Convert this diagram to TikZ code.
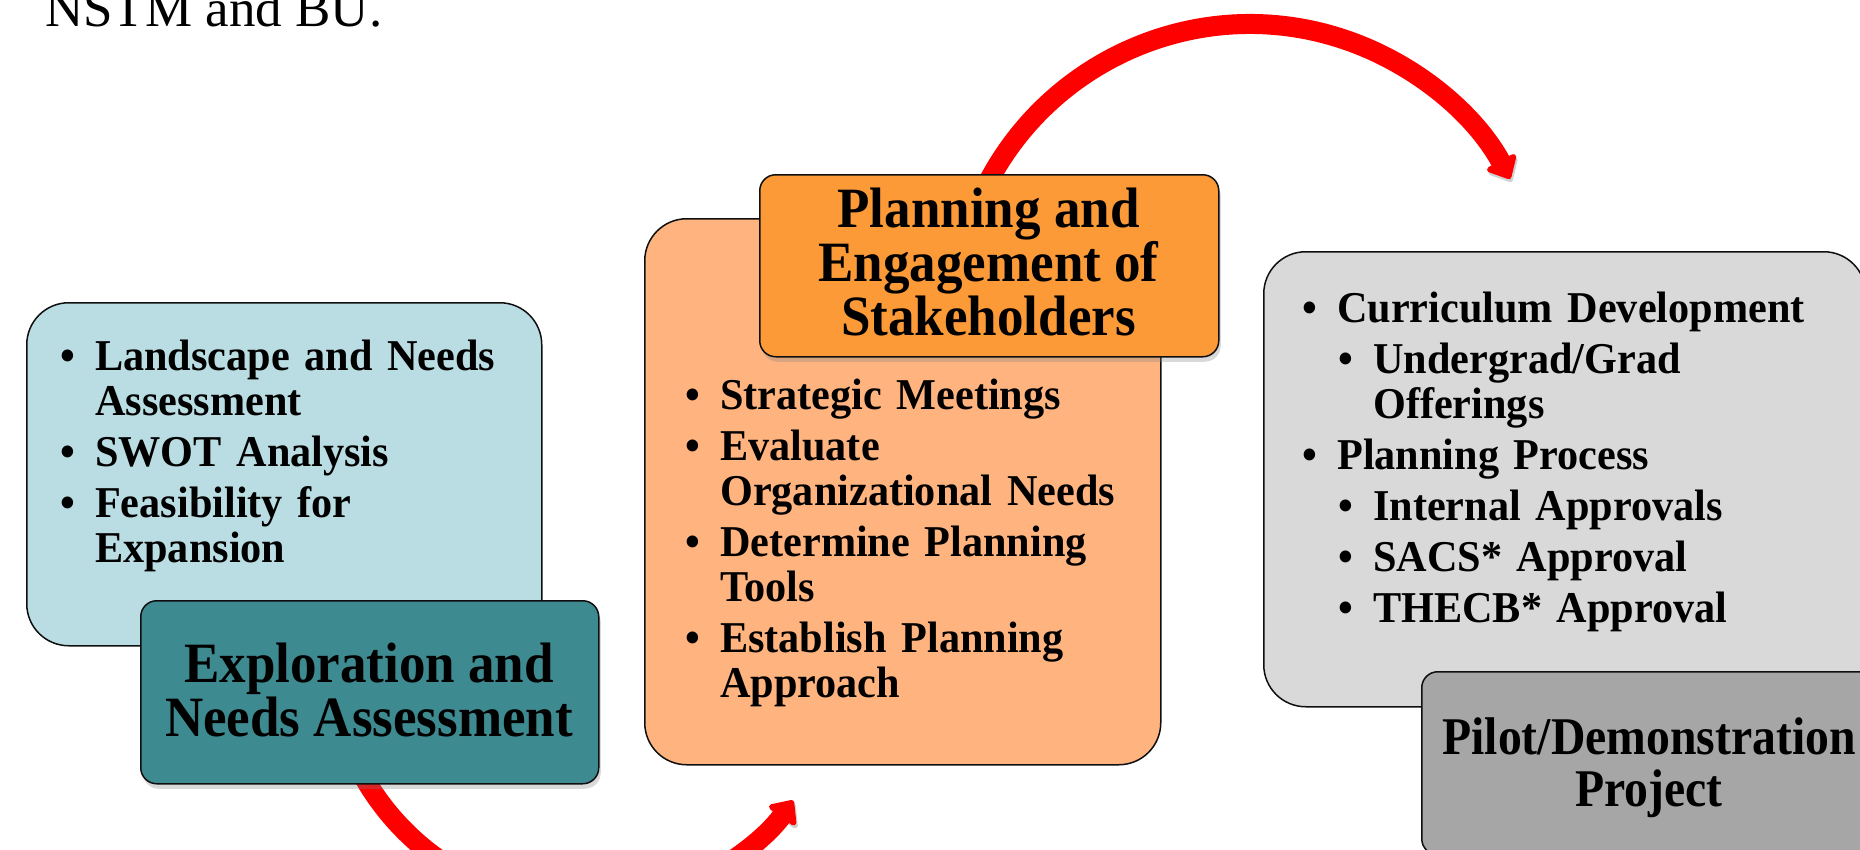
\documentclass[tikz,border=0pt]{standalone}
\usepackage{fontspec}
\setmainfont{Liberation Serif}
\newfontfamily\tfont{Liberation Serif Bold}[FakeStretch=0.93]
\newfontfamily\pfont{Liberation Serif Bold}[FakeStretch=0.9]
\newfontfamily\cfont{Liberation Serif Bold}[FakeStretch=0.96]
\usetikzlibrary{arrows.meta,shadows}
\definecolor{lblue}{RGB}{185,221,226}
\definecolor{tealbox}{RGB}{62,138,145}
\definecolor{lorange}{RGB}{255,180,128}
\definecolor{dorange}{RGB}{253,154,56}
\definecolor{lgrey}{RGB}{217,217,217}
\definecolor{dgrey}{RGB}{166,166,166}
\definecolor{edgecol}{RGB}{15,15,15}
\newcommand\itm[2][0pt]{\par\noindent\hangindent=\dimexpr#1+35pt\relax\hangafter=1\hspace*{#1}\makebox[35pt][l]{\textbullet}#2}
\newcommand\gap{\par\vspace{6pt}}
\tikzset{
  cbox/.style={draw=edgecol, line width=1.5pt, rounded corners=42pt, anchor=north west, inner sep=0pt},
  tbox/.style={draw=edgecol, line width=1.5pt, rounded corners=16pt, anchor=north west, inner sep=0pt,
    drop shadow={shadow xshift=2pt, shadow yshift=-5pt, opacity=0.3}},
  ctext/.style={anchor=north west, inner sep=0pt, text width=560pt, align=left,
    font=\cfont\fontsize{44}{45}\selectfont},
  ttext/.style={anchor=north, inner sep=0pt, align=center,
    font=\tfont\fontsize{57}{54}\selectfont},
  redarc/.style={draw=red, line width=20pt, -{Triangle[length=22pt,width=38pt,round]},
    preaction={draw=black, opacity=0.18, transform canvas={xshift=1.5pt,yshift=-3pt}}},
}
\begin{document}
\begin{tikzpicture}[x=1pt,y=-1pt]
\useasboundingbox (0,0) rectangle (1860,849);

% header text
\node[anchor=base west, inner sep=0pt, font=\fontsize{53}{60}\selectfont] (hdr) at (45,26) {NSTM and BU.};

% arcs
\coordinate (a1s) at (971.8,218.8);
\draw[redarc] (a1s) arc[start angle=160, end angle=28.5, radius=296pt];
\coordinate (a2s) at (354,758.2);
\draw[redarc] (a2s) arc[start angle=205, end angle=324, radius=256pt];

% stage 1
\node[cbox, fill=lblue, minimum width=515pt, minimum height=343pt] (lb) at (26,302) {};
\node[ctext] (lbt) at (60,325) {%
\itm{\rule{0pt}{32pt}Landscape and Needs\newline Assessment}\gap
\itm{SWOT Analysis}\gap
\itm{Feasibility for\newline Expansion}\par};
\node[tbox, fill=tealbox, minimum width=458pt, minimum height=183pt] (tb) at (140,600) {};
\node[ttext] (tbt) at (369,642) {\rule{0pt}{40pt}Exploration and\\Needs Assessment};

% stage 2
\node[cbox, fill=lorange, minimum width=516pt, minimum height=546pt] (oc) at (644,218) {};
\node[ctext] (oct) at (685,364) {%
\itm{\rule{0pt}{32pt}Strategic Meetings}\gap
\itm{Evaluate\newline Organizational Needs}\gap
\itm{Determine Planning\newline Tools}\gap
\itm{Establish Planning\newline Approach}\par};
\node[tbox, fill=dorange, minimum width=459pt, minimum height=182pt] (ot) at (759,174) {};
\node[ttext] (ott) at (988.5,187) {\rule{0pt}{40pt}Planning and\\Engagement of\\Stakeholders};

% stage 3
\node[cbox, fill=lgrey, minimum width=602pt, minimum height=455pt] (gc) at (1263,251) {};
\node[ctext] (gct) at (1302,277) {%
\itm{\rule{0pt}{32pt}Curriculum Development}\gap
\itm[36pt]{Undergrad/Grad\newline Offerings}\gap
\itm{Planning Process}\gap
\itm[36pt]{Internal Approvals}\gap
\itm[36pt]{SACS* Approval}\gap
\itm[36pt]{THECB* Approval}\par};
\node[tbox, fill=dgrey, minimum width=456pt, minimum height=183pt] (dg) at (1421,671) {};
\node[ttext, font=\pfont\fontsize{53}{52}\selectfont] (dgt) at (1649,714) {\rule{0pt}{40pt}Pilot/Demonstration\\Project};
\end{tikzpicture}
\end{document}
